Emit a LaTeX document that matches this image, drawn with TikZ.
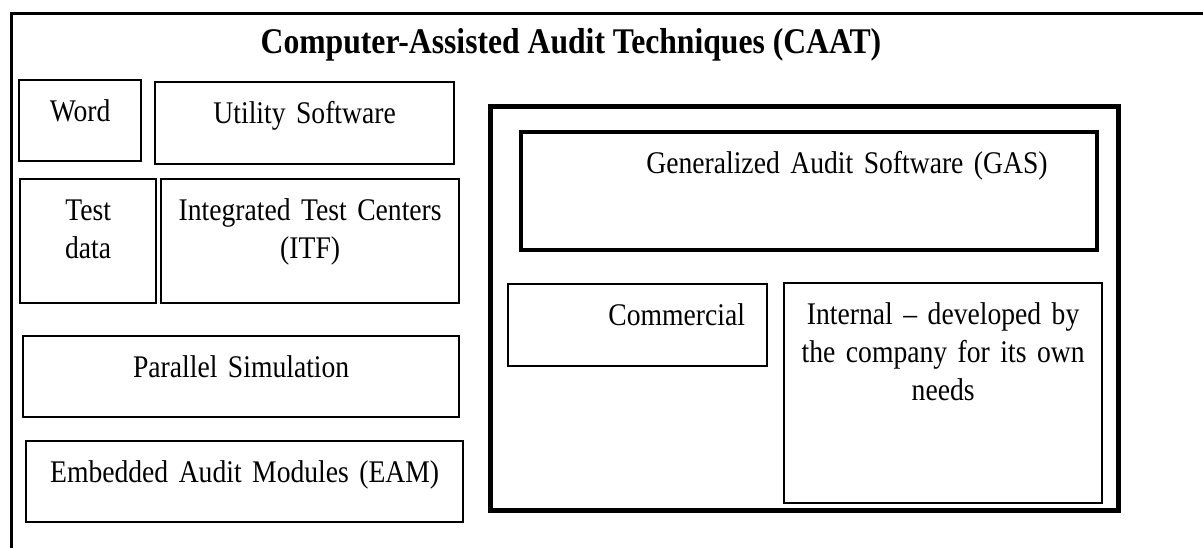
\documentclass[tikz,border=0pt]{standalone}
\usepackage{fontspec}
\setmainfont{Liberation Serif}[FakeStretch=0.877]
\usepackage{tikz}

\newcommand\cellfont{\fontsize{31.5}{38}\selectfont}
\newcommand\headfont{\fontsize{36.1}{38}\selectfont\bfseries}

\begin{document}
\begin{tikzpicture}[x=1pt,y=-1pt,
		cell/.style={draw, line width=2.3pt, anchor=north west, inner sep=0pt, align=center, text height=41pt, font=\cellfont},
		frame/.style={draw, anchor=north west, inner sep=0pt}]
	\useasboundingbox (0,0) rectangle (1203,547);
	%% ========================================================
	\node[frame, line width=2.5pt, minimum width=1230pt, minimum height=560pt] (caat) at (10,12) {};
	\node[anchor=base, inner sep=0pt, font=\headfont] (title) at (571,53) {Computer-Assisted Audit Techniques (CAAT)};
	%% ========================================================
	\node[cell, text width=122pt, text depth=40pt] (word) at (18,79) {Word};
	\node[cell, text width=299pt, text depth=41pt] (utility) at (154,81) {Utility Software};
	\node[cell, text width=136pt, text depth=83pt] (testdata) at (19,178) {Test\\data};
	\node[cell, text width=298pt, text depth=83pt] (itf) at (160,178) {Integrated Test Centers\\(ITF)};
	\node[cell, text width=436pt, text depth=40pt] (parallel) at (22,335) {Parallel Simulation};
	\node[cell, text width=437pt, text depth=40pt] (eam) at (25,440) {Embedded Audit Modules (EAM)};
	%% ========================================================
	\node[frame, line width=5pt, minimum width=628pt, minimum height=404pt] (gasframe) at (488,104) {};
	\node[cell, line width=4pt, text width=576pt, text depth=77pt] (gas) at (519,130) {\hspace*{76pt}Generalized Audit Software (GAS)};
	\node[cell, text width=259pt, text depth=41pt] (commercial) at (507,283) {\hspace*{78pt}Commercial};
	\node[cell, text width=318pt, text depth=179pt] (internal) at (783,282) {Internal -- developed by\\the company for its own\\needs};
	%% ========================================================
\end{tikzpicture}
\end{document}
